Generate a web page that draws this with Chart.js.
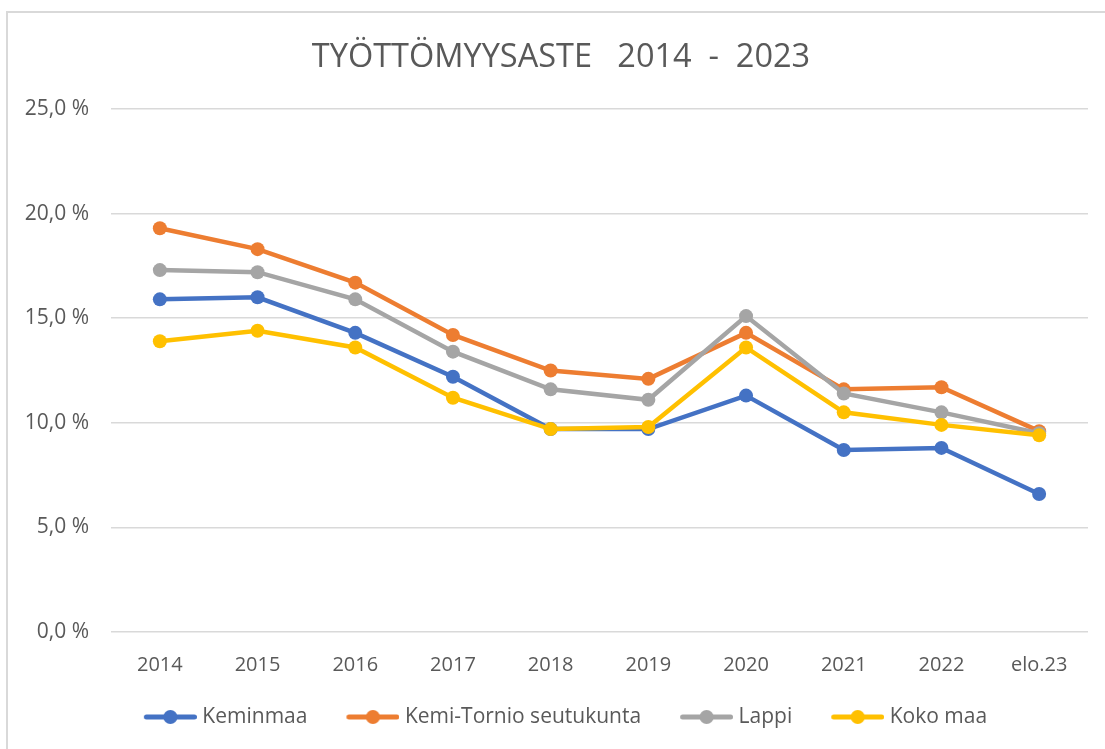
<!DOCTYPE html>
<html>
<head>
<meta charset="utf-8">
<script src="https://cdn.jsdelivr.net/npm/chart.js@4/dist/chart.umd.min.js"></script>
<style>
  html, body { margin: 0; padding: 0; background: #ffffff; }
  #wrap { position: relative; width: 1105px; height: 749px; }
  #frame { position: absolute; left: 6px; top: 11px; right: 0; bottom: 0;
           border-left: 2px solid #D9D9D9; border-top: 2px solid #D9D9D9; pointer-events: none; }
  canvas { position: absolute; left: 0; top: 0; }
</style>
</head>
<body>
<div id="wrap">
  <div id="frame"></div>
  <canvas id="c" width="1105" height="749"></canvas>
</div>
<script>
const categories = ['2014', '2015', '2016', '2017', '2018', '2019', '2020', '2021', '2022', 'elo.23'];
const keminmaa   = [15.9, 16.0, 14.3, 12.2, 9.7, 9.7, 11.3, 8.7, 8.8, 6.6];
const kemiTornio = [19.3, 18.3, 16.7, 14.2, 12.5, 12.1, 14.3, 11.6, 11.7, 9.6];
const lappi      = [17.3, 17.2, 15.9, 13.4, 11.6, 11.1, 15.1, 11.4, 10.5, 9.5];
const kokoMaa    = [13.9, 14.4, 13.6, 11.2, 9.7, 9.8, 13.6, 10.5, 9.9, 9.4];
const seriesNames = ['Keminmaa', 'Kemi-Tornio seutukunta', 'Lappi', 'Koko maa'];
const yTicks = [0, 5, 10, 15, 20, 25];
const titleText = 'TYÖTTÖMYYSASTE   2014  -  2023';

const colors = ['#4472C4', '#ED7D31', '#A5A5A5', '#FFC000'];
const FONT = '"Open Sans", Lato, sans-serif';
const TXT = '#595959';

// legend icon: small transparent lead-in then line with a circle in the middle
const ICON_W = 67, LINE_LEN = 53;
function legendIcon(color) {
  const c = document.createElement('canvas');
  c.width = ICON_W; c.height = 16;
  const g = c.getContext('2d');
  const x0 = ICON_W - LINE_LEN;
  g.strokeStyle = color; g.lineWidth = 5; g.lineCap = 'round';
  g.beginPath(); g.moveTo(x0 + 2.5, 8); g.lineTo(ICON_W - 2.5, 8); g.stroke();
  g.fillStyle = color;
  g.beginPath(); g.arc(x0 + LINE_LEN / 2, 8, 7, 0, Math.PI * 2); g.fill();
  return c;
}

const data = [keminmaa, kemiTornio, lappi, kokoMaa];
const datasets = data.map((vals, i) => ({
  label: seriesNames[i],
  data: vals,
  borderColor: colors[i],
  backgroundColor: colors[i],
  borderWidth: 4.5,
  pointRadius: 7,
  pointHoverRadius: 7,
  pointBorderWidth: 0,
  pointStyle: 'circle',
  tension: 0,
  order: data.length - 1 - i,
  legendIcon: legendIcon(colors[i])
}));

// center title and legend on the framed chart box rather than the full canvas
const shiftBlocks = {
  id: 'shiftBlocks',
  afterLayout(chart) {
    if (chart.titleBlock) chart.titleBlock.left = 34;
    if (chart.legend) chart.legend.left = 34;
  }
};

new Chart(document.getElementById('c'), {
  type: 'line',
  data: { labels: categories, datasets },
  plugins: [shiftBlocks],
  options: {
    responsive: false,
    animation: false,
    layout: { padding: { left: 0, right: 17, top: 0, bottom: 11.5 } },
    plugins: {
      title: {
        display: true,
        text: titleText,
        color: TXT,
        font: { family: FONT, size: 32.5, weight: 'normal' },
        padding: { top: 38.5, bottom: 31.5 }
      },
      legend: {
        position: 'bottom',
        labels: {
          color: TXT,
          font: { family: FONT, size: 21 },
          usePointStyle: true,
          pointStyleWidth: 57,
          padding: 30,
          sort: (a, b) => a.datasetIndex - b.datasetIndex,
          generateLabels: (chart) => chart.data.datasets.map((ds, i) => ({
            text: ds.label,
            fillStyle: ds.borderColor,
            strokeStyle: ds.borderColor,
            lineWidth: 0,
            pointStyle: ds.legendIcon,
            fontColor: TXT,
            hidden: false,
            datasetIndex: i
          }))
        }
      },
      tooltip: { enabled: false }
    },
    scales: {
      x: {
        offset: true,
        grid: { display: false },
        border: { display: false },
        ticks: { color: TXT, font: { family: FONT, size: 20 }, padding: 13, maxRotation: 0 },
        afterFit: (s) => { s.height = 44.5; }
      },
      y: {
        min: 0, max: 25,
        afterBuildTicks: (s) => { s.ticks = yTicks.map(v => ({ value: v })); },
        grid: { color: '#D9D9D9', lineWidth: 1.5, drawTicks: false },
        border: { display: false },
        ticks: {
          color: TXT,
          font: { family: FONT, size: 21 },
          padding: 22,
          callback: (v) => v.toFixed(1).replace('.', ',') + ' %'
        },
        afterFit: (s) => { s.width = 111; }
      }
    }
  }
});
</script>
</body>
</html>
